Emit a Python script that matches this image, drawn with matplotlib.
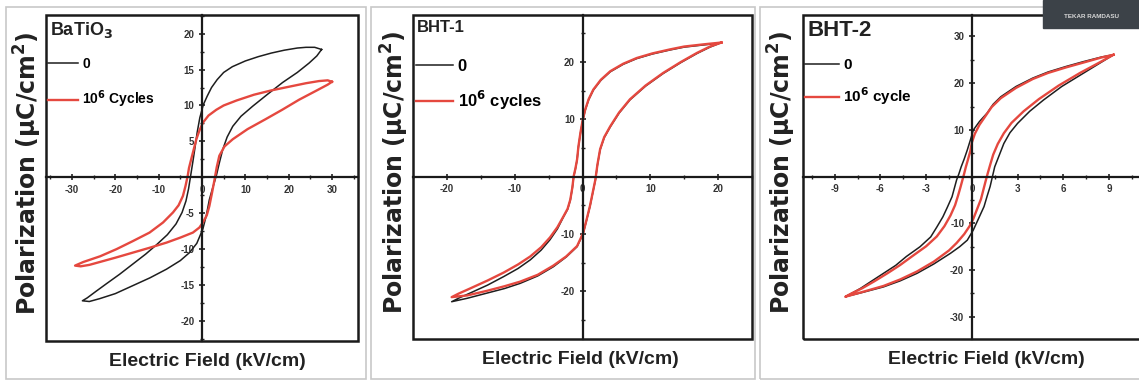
import matplotlib
matplotlib.use("Agg")
from matplotlib import pyplot as plt
from matplotlib.patches import Rectangle
from matplotlib.ticker import MultipleLocator, FixedLocator

plt.rcParams['font.family'] = ['Liberation Sans', 'DejaVu Sans']
plt.rcParams['axes.unicode_minus'] = False

# ---- data (E in kV/cm, P in uC/cm2) ----
# BaTiO3, 0 cycles: upper branch (from +Emax down), then lower branch (back up)
bto0_up_E = [27.6, 26, 24, 22, 19, 16, 13, 10, 7, 5, 3.5, 2.2, 1.2, 0.3, -0.5, -1.1, -1.6, -2.1,
             -2.6, -3.1, -3.7, -4.6, -6, -8, -10.5, -13, -16, -19, -22, -24.5, -26.5, -27.6]
bto0_up_P = [17.8, 18.1, 18.1, 18.0, 17.7, 17.3, 16.8, 16.2, 15.4, 14.6, 13.6, 12.5, 11.3, 10.1, 8.3,
             6.3, 4.2, 2.2, 0.3, -1.6, -3.3, -4.9, -6.5, -8.0, -9.4, -10.7, -12.1, -13.5, -14.8,
             -15.9, -16.8, -17.2]
bto0_lo_E = [-27.6, -26, -23.6, -20, -16, -12, -8.2, -5, -2.9, -1.2, 0.2, 1.0, 1.7, 2.5, 3.3, 4.0,
             4.8, 5.8, 7.1, 9, 11.7, 15, 18.6, 22, 24.7, 26.5, 27.6]
bto0_lo_P = [-17.2, -17.3, -16.9, -16.2, -15.1, -14.0, -12.8, -11.6, -10.5, -9.2, -7.2, -5.3, -3.1,
             -1.4, 0.2, 2.0, 3.9, 5.6, 7.1, 8.5, 9.9, 11.5, 13.2, 14.6, 15.9, 16.9, 17.8]
# BaTiO3, 10^6 cycles
bto6_up_E = [30, 29, 27, 24, 20, 16, 12, 8, 5, 3.3, 1.5, 0.2, -0.6, -1.3, -1.9, -2.5, -3.0, -3.3,
             -3.8, -4.4, -5.4, -6.7, -9, -12.1, -16, -19.7, -23.5, -27.4, -29.3]
bto6_up_P = [13.3, 13.5, 13.4, 13.1, 12.6, 12.1, 11.5, 10.7, 10.0, 9.4, 8.6, 7.6, 6.5, 5.3, 3.9,
             2.5, 1.3, 0.2, -1.2, -2.6, -3.9, -4.9, -6.3, -7.7, -8.9, -10.0, -11.0, -11.8, -12.3]
bto6_lo_E = [-29.3, -28, -26, -23.6, -20, -16, -12, -8.2, -5, -2.1, -0.6, 0.2, 1.1, 1.7, 2.3, 2.9,
             3.4, 4.0, 5.2, 7.1, 10.5, 14.7, 18.5, 22.4, 26.5, 29, 30]
bto6_lo_P = [-12.3, -12.4, -12.2, -11.8, -11.2, -10.5, -9.8, -9.1, -8.4, -7.7, -7.0, -6.3, -5.3,
             -4.0, -2.2, -0.3, 1.4, 3.0, 4.3, 5.3, 6.7, 8.1, 9.4, 10.8, 12.1, 12.9, 13.3]

# BHT-1
bht1_0_up_E = [20.3, 18, 15, 12.9, 10.3, 8, 6, 4.1, 2.7, 1.6, 0.9, 0.4, 0.0, -0.3, -0.6, -0.8,
               -1.05, -1.3, -1.5, -1.8, -2.2, -2.8, -3.7, -4.8, -6.1, -7.7, -9.5, -11.6, -14,
               -16.6, -18.3, -19.3]
bht1_0_up_P = [23.3, 23.0, 22.6, 22.1, 21.4, 20.6, 19.6, 18.3, 16.8, 15.1, 13.4, 11.6, 9.6, 7.6,
               5.2, 2.9, 1.3, 0.0, -2.0, -4.1, -5.7, -7.0, -9.1, -11.0, -12.8, -14.5, -16.0,
               -17.4, -18.9, -20.3, -21.2, -21.8]
bht1_0_lo_E = [-19.3, -17, -14.1, -11.5, -9.2, -6.6, -4.3, -2.4, -0.8, 0.1, 0.6, 1.1, 1.5, 1.9,
               2.2, 2.6, 3.2, 4.1, 5.4, 7.0, 9.3, 11.9, 14.5, 16.9, 18.8, 20.3]
bht1_0_lo_P = [-21.8, -21.2, -20.3, -19.5, -18.6, -17.3, -15.7, -14.0, -12.2, -9.9, -7.6, -5.2,
               -2.9, -0.6, 2.0, 4.7, 6.8, 8.7, 11.1, 13.4, 15.8, 18.0, 19.9, 21.5, 22.6, 23.3]
bht1_6_up_E = [20.5, 18, 15, 12.9, 10.3, 8, 6, 4.1, 2.7, 1.6, 0.9, 0.4, 0.0, -0.3, -0.6, -0.8,
               -1.05, -1.3, -1.5, -1.8, -2.2, -2.8, -3.7, -4.8, -6.1, -7.7, -9.5, -11.6, -14,
               -16.6, -18.3, -19.3]
bht1_6_up_P = [23.4, 23.1, 22.7, 22.2, 21.5, 20.7, 19.7, 18.4, 16.9, 15.2, 13.5, 11.7, 9.7, 7.7,
               5.3, 3.0, 1.4, 0.1, -1.9, -4.0, -5.6, -6.9, -8.8, -10.6, -12.3, -13.9, -15.3,
               -16.7, -18.1, -19.5, -20.4, -21.0]
bht1_6_lo_E = [-19.3, -17, -14.1, -11.5, -9.2, -6.6, -4.3, -2.4, -0.8, 0.1, 0.6, 1.1, 1.5, 1.9,
               2.2, 2.6, 3.2, 4.1, 5.4, 7.0, 9.3, 11.9, 14.5, 16.9, 18.8, 20.5]
bht1_6_lo_P = [-21.0, -20.7, -19.9, -19.1, -18.3, -17.1, -15.5, -13.9, -12.1, -9.8, -7.5, -5.1,
               -2.8, -0.5, 2.1, 4.8, 6.9, 8.8, 11.2, 13.5, 15.9, 18.1, 20.0, 21.6, 22.7, 23.4]

# BHT-2
bht2_0_up_E = [9.3, 8.5, 7.3, 6.2, 5.0, 4.0, 2.9, 1.9, 1.4, 1.0, 0.5, 0.1, -0.1, -0.3, -0.5, -0.7,
               -0.85, -1.0, -1.15, -1.3, -1.6, -1.9, -2.3, -2.7, -3.4, -4.3, -5.0, -5.8, -6.6,
               -7.3, -7.9, -8.3]
bht2_0_up_P = [26.1, 25.6, 24.6, 23.6, 22.4, 21.1, 19.3, 17.1, 15.5, 13.6, 11.8, 10.0, 7.8, 5.7,
               3.8, 2.1, 0.6, -0.7, -2.5, -4.3, -6.5, -8.6, -10.8, -12.9, -15.0, -17.1, -19.0,
               -20.7, -22.4, -23.9, -25.0, -25.7]
bht2_0_lo_E = [-8.3, -7.2, -5.8, -4.7, -3.6, -2.5, -1.4, -0.8, -0.3, 0.1, 0.45, 0.8, 1.0, 1.2,
               1.35, 1.5, 1.8, 2.1, 2.5, 3.0, 3.8, 4.7, 5.9, 7.3, 8.4, 9.3]
bht2_0_lo_P = [-25.7, -24.8, -23.6, -22.3, -20.7, -18.7, -16.4, -15.0, -13.6, -11.4, -8.9, -6.4,
               -4.2, -2.1, 0.0, 2.1, 4.6, 7.1, 9.4, 11.4, 14.0, 16.4, 19.3, 22.1, 24.3, 26.1]
bht2_6_up_E = [9.3, 8.5, 7.3, 6.2, 5.0, 4.0, 2.9, 1.9, 1.3, 0.9, 0.5, 0.2, 0.0, -0.1, -0.25, -0.4,
               -0.5, -0.6, -0.75, -0.9, -1.1, -1.4, -1.8, -2.3, -3.0, -3.9, -4.7, -5.5, -6.4,
               -7.2, -7.9, -8.3]
bht2_6_up_P = [26.1, 25.5, 24.4, 23.4, 22.2, 20.9, 19.0, 16.8, 14.9, 13.0, 11.1, 9.2, 7.3, 5.5,
               3.7, 2.0, 0.7, -0.5, -2.3, -4.0, -6.1, -8.3, -10.6, -12.8, -14.9, -17.0, -18.9,
               -20.6, -22.4, -23.9, -25.0, -25.7]
bht2_6_lo_E = [-8.3, -7.2, -5.8, -4.7, -3.6, -2.5, -1.5, -1.0, -0.5, -0.15, 0.1, 0.35, 0.6, 0.75,
               0.9, 1.05, 1.2, 1.4, 1.7, 2.1, 2.6, 3.4, 4.4, 5.7, 7.1, 8.3, 9.3]
bht2_6_lo_P = [-25.7, -24.7, -23.4, -22.0, -20.3, -18.2, -15.8, -14.2, -12.3, -10.6, -9.0, -6.9,
               -4.8, -2.9, -1.0, 0.8, 2.5, 4.7, 7.0, 9.3, 11.5, 14.0, 16.6, 19.5, 22.2, 24.3, 26.1]

names = ["BaTiO$_\\mathbf{3}$", "BHT-1", "BHT-2"]
labels6 = ["10$^\\mathbf{6}$ Cycles", "10$^\\mathbf{6}$ cycles", "10$^\\mathbf{6}$ cycle"]
xticks = [[-30, -20, -10, 0, 10, 20, 30], [-20, -10, 0, 10, 20], [-9, -6, -3, 0, 3, 6, 9]]
yticks = [[-20, -15, -10, -5, 5, 10, 15, 20], [-20, -10, 10, 20], [-30, -20, -10, 10, 20, 30]]

W, H = 1139, 381
fig = plt.figure(figsize=(W / 100, H / 100), dpi=100)

# panel frames (light grey boxes)
for x0, x1 in [(6, 366), (371, 755), (760, 1145)]:
    fig.patches.append(Rectangle((x0 / W, 1 - 379 / H), (x1 - x0) / W, 372 / H,
                                 transform=fig.transFigure, fill=False,
                                 ec="#c8c8c8", lw=1.2))

boxes = [(46, 358, 15, 341), (413, 752, 15, 339), (803, 1141, 15, 339)]
xlims = [(-36, 36), (-25, 25), (-11.08, 11.1)]
ylims = [(-22.8, 22.6), (-28.3, 28.2), (-34.75, 34.6)]
minx = [5, 5, 1.5]
miny = [2.5, 5, 5]

data = [
    ((bto0_up_E + bto0_lo_E, bto0_up_P + bto0_lo_P), (bto6_up_E + bto6_lo_E, bto6_up_P + bto6_lo_P)),
    ((bht1_0_up_E + bht1_0_lo_E, bht1_0_up_P + bht1_0_lo_P), (bht1_6_up_E + bht1_6_lo_E, bht1_6_up_P + bht1_6_lo_P)),
    ((bht2_0_up_E + bht2_0_lo_E, bht2_0_up_P + bht2_0_lo_P), (bht2_6_up_E + bht2_6_lo_E, bht2_6_up_P + bht2_6_lo_P)),
]
name_size = [13, 12, 16]
leg_size = [10, 12, 11]
leg_space = [1.3, 0.9, 0.9]
ylab_x = [-0.058, -0.053, -0.062]
xlab_x = [0.516, 0.493, 0.544]

for i, (l, r, t, b) in enumerate(boxes):
    ax = fig.add_axes([l / W, 1 - b / H, (r - l) / W, (b - t) / H])
    (e0, p0), (e6, p6) = data[i]
    ax.plot(e0, p0, color="#1e1e1e", lw=1.1, label="0")
    ax.plot(e6, p6, color="#e5483f", lw=1.7, label=labels6[i])
    ax.set_xlim(*xlims[i])
    ax.set_ylim(*ylims[i])

    # axes through the origin, plus the outer frame
    for s in ["left", "bottom"]:
        ax.spines[s].set_position(("data", 0))
        ax.spines[s].set_linewidth(1.6)
        ax.spines[s].set_color("#1a1a1a")
    for s in ["top", "right"]:
        ax.spines[s].set_visible(False)
    ax.add_patch(Rectangle((0, 0), 1, 1, transform=ax.transAxes, fill=False,
                           lw=1.8, ec="#1a1a1a", clip_on=False, zorder=5))

    ax.xaxis.set_major_locator(FixedLocator(xticks[i]))
    ax.yaxis.set_major_locator(FixedLocator(yticks[i]))
    ax.xaxis.set_minor_locator(MultipleLocator(minx[i]))
    ax.yaxis.set_minor_locator(MultipleLocator(miny[i]))
    ax.tick_params(which="major", direction="inout", length=5, width=1.2, color="#222",
                   labelsize=7, labelcolor="#333", pad=3)
    ax.tick_params(which="minor", direction="inout", length=3, width=1.0, color="#222")
    for lab in ax.get_xticklabels() + ax.get_yticklabels():
        lab.set_fontweight("bold")

    ax.set_xlabel("Electric Field (kV/cm)", fontsize=14, fontweight="bold", color="#222", va="center")
    ax.xaxis.set_label_coords(xlab_x[i], -0.062)
    ax.set_ylabel("Polarization ($\\mathbf{\\mu}$C/cm$^\\mathbf{2}$)", fontsize=17,
                  family="DejaVu Sans", fontweight="bold", color="#222", va="center")
    ax.yaxis.set_label_coords(ylab_x[i], 0.515)

    ax.text(0.012, 0.985, names[i], transform=ax.transAxes, ha="left", va="top",
            fontsize=name_size[i], fontweight="bold", color="#222")
    ax.legend(loc="upper left", bbox_to_anchor=(-0.035, 0.91), frameon=False,
              handlelength=2.2, handletextpad=0.3, labelspacing=leg_space[i],
              prop={"size": leg_size[i], "weight": "bold"})

# small dark tag in the top right corner
fig.patches.append(Rectangle((1043 / W, 1 - 28 / H), 96 / W, 28 / H,
                             transform=fig.transFigure, color="#3c4248", zorder=10))
fig.text(1091 / W, 1 - 16 / H, "TEKAR RAMDASU", color="#d8d8d8", fontsize=4.5,
         fontweight="bold", ha="center", va="center", zorder=11)

fig.savefig("out.png", dpi=100)
